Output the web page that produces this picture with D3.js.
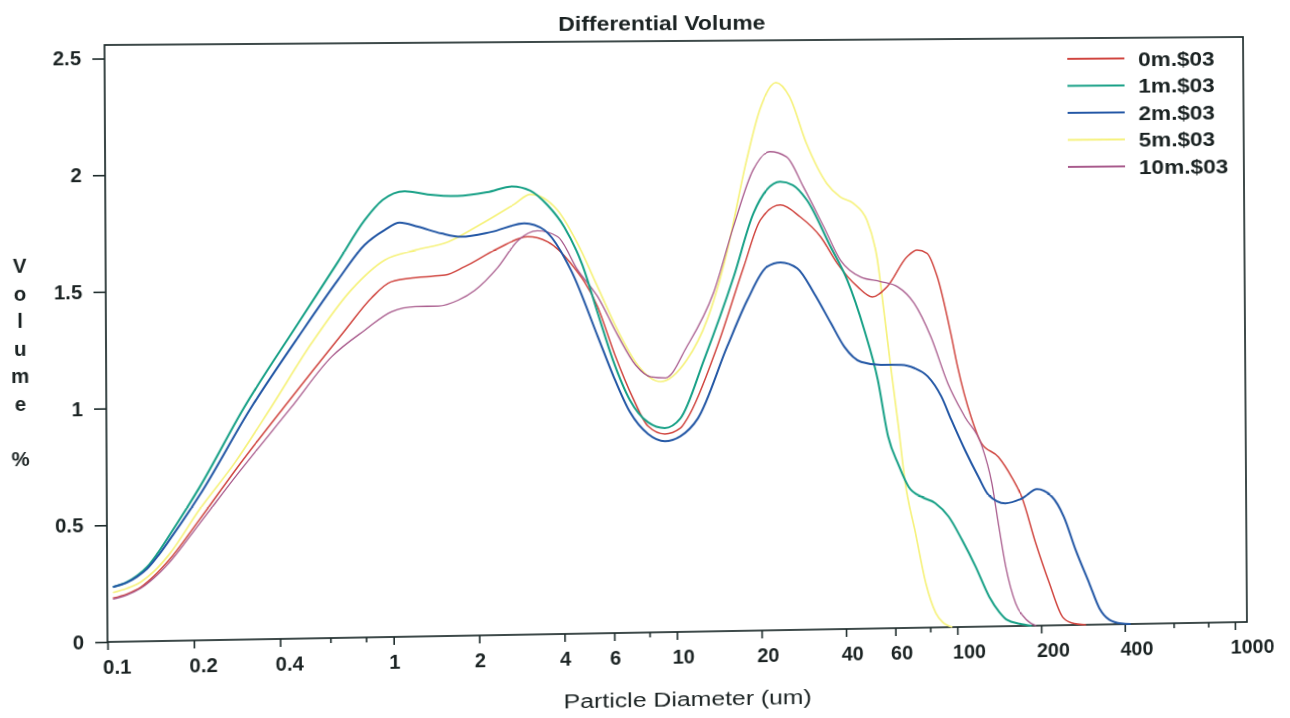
<!DOCTYPE html>
<html>
<head>
<meta charset="utf-8">
<script src="https://cdn.jsdelivr.net/npm/d3@7"></script>
<style>
  html, body { margin: 0; padding: 0; background: #fff; overflow: hidden; width: 1290px; height: 718px; }
  #chart { position: absolute; left: 0; top: 0; transform-origin: 0 0; overflow: visible; }
  text { font-family: "Liberation Sans", Arial, sans-serif; fill: #1b2323; }
</style>
</head>
<body>
<svg id="chart" width="1290" height="740"></svg>
<script>
// ---- Differential volume distributions (diameter in um, volume in %) ----
const size0m = [0.1047, 0.1172, 0.1312, 0.146, 0.1645, 0.21, 0.29, 0.414, 0.535, 0.686, 0.848, 0.996, 1.24, 1.54, 1.81, 2.37, 3.02, 3.55, 4.29, 5.32, 6.11, 7.06, 7.98, 9.15, 10.4, 11.03, 14.1, 17.6, 20.2, 23.8, 28.0, 33.1, 37.9, 44.7, 50.5, 57.1, 67.4, 73.2, 79.4, 86.3, 96.2, 101.6, 113.2, 123, 141.6, 157.8, 171.4, 191.9, 214.3, 238.8, 257, 290];
const vol0m  = [0.187, 0.204, 0.233, 0.280, 0.347, 0.517, 0.75, 0.991, 1.161, 1.324, 1.46, 1.529, 1.547, 1.555, 1.591, 1.668, 1.717, 1.694, 1.599, 1.411, 1.202, 1.015, 0.892, 0.857, 0.882, 0.925, 1.232, 1.578, 1.779, 1.843, 1.791, 1.703, 1.587, 1.485, 1.44, 1.484, 1.613, 1.641, 1.627, 1.524, 1.277, 1.132, 0.914, 0.799, 0.737, 0.649, 0.561, 0.36, 0.185, 0.036, 0.01, 0];

const size1m = [0.1047, 0.1172, 0.127, 0.1377, 0.1493, 0.1645, 0.21, 0.302, 0.47, 0.648, 0.807, 0.933, 1.115, 1.343, 1.713, 2.18, 2.67, 3.09, 3.55, 4.07, 4.71, 5.32, 6.01, 6.89, 7.98, 9.15, 10.4, 12.65, 16.2, 19.1, 21.3, 23.8, 26.4, 29.6, 35.9, 41.1, 47.2, 52.6, 57.1, 62.1, 67.4, 75, 83.9, 93.6, 104.5, 116.7, 130.3, 141.6, 151, 167, 185];
const vol1m  = [0.235, 0.255, 0.281, 0.318, 0.373, 0.45, 0.654, 0.995, 1.357, 1.617, 1.797, 1.882, 1.919, 1.904, 1.896, 1.911, 1.935, 1.916, 1.853, 1.757, 1.591, 1.384, 1.18, 1.006, 0.909, 0.883, 0.924, 1.176, 1.535, 1.809, 1.909, 1.944, 1.929, 1.864, 1.659, 1.514, 1.296, 1.079, 0.832, 0.709, 0.613, 0.568, 0.54, 0.481, 0.378, 0.261, 0.13, 0.062, 0.027, 0.01, 0];

const size2m = [0.1047, 0.1172, 0.127, 0.1377, 0.1493, 0.1645, 0.21, 0.319, 0.47, 0.648, 0.805, 0.946, 1.069, 1.24, 1.5, 1.76, 2.24, 2.94, 3.46, 4.29, 5.32, 6.01, 6.89, 7.98, 9.15, 10.4, 12.0, 15.3, 18.1, 21.3, 23.8, 27.3, 31.3, 35.9, 40.0, 45.9, 54.1, 63.8, 71.2, 79.4, 88.7, 96.2, 107.5, 119.9, 130.3, 149.6, 171.8, 194.5, 220.2, 242.7, 267.3, 298.5, 324.3, 352.4, 389, 420];
const vol2m  = [0.235, 0.253, 0.277, 0.31, 0.36, 0.43, 0.62, 0.993, 1.298, 1.54, 1.689, 1.752, 1.783, 1.765, 1.735, 1.72, 1.739, 1.775, 1.745, 1.57, 1.282, 1.115, 0.954, 0.858, 0.826, 0.847, 0.923, 1.232, 1.433, 1.576, 1.594, 1.567, 1.458, 1.327, 1.225, 1.158, 1.144, 1.143, 1.128, 1.091, 1.003, 0.901, 0.769, 0.652, 0.572, 0.535, 0.555, 0.594, 0.56, 0.472, 0.326, 0.181, 0.071, 0.02, 0.003, 0];

const size5m = [0.1047, 0.1172, 0.1312, 0.146, 0.1645, 0.21, 0.28, 0.374, 0.523, 0.721, 0.946, 1.21, 1.58, 2.07, 2.71, 3.09, 3.85, 4.53, 5.32, 6.25, 7.35, 8.87, 11.0, 13.0, 15.3, 18.1, 20.2, 23.1, 25.8, 29.6, 34.9, 38.9, 43.5, 48.5, 52.6, 55.6, 58.7, 62.1, 65.6, 71.2, 77.3, 83.9, 88.7, 96];
const vol5m  = [0.211, 0.228, 0.255, 0.3, 0.37, 0.56, 0.76, 0.992, 1.27, 1.496, 1.623, 1.664, 1.698, 1.774, 1.858, 1.9, 1.831, 1.686, 1.498, 1.309, 1.157, 1.084, 1.177, 1.349, 1.636, 2.039, 2.256, 2.374, 2.313, 2.109, 1.935, 1.876, 1.846, 1.773, 1.609, 1.37, 1.123, 0.882, 0.629, 0.411, 0.193, 0.062, 0.022, 0];

const size10m = [0.1047, 0.1172, 0.1312, 0.146, 0.1645, 0.21, 0.29, 0.44, 0.614, 0.805, 1.0, 1.21, 1.46, 1.71, 1.96, 2.37, 2.79, 3.27, 3.85, 4.53, 5.32, 6.25, 7.23, 8.19, 9.23, 11.0, 13.7, 16.2, 19.1, 21.9, 25.1, 28.8, 34.0, 38.9, 45.9, 54.1, 62.1, 71.2, 81.6, 93.6, 107.5, 123.3, 134, 141.6, 149.6, 162, 177, 192];
const vol10m  = [0.183, 0.2, 0.228, 0.272, 0.335, 0.5, 0.72, 0.991, 1.21, 1.323, 1.401, 1.421, 1.422, 1.446, 1.488, 1.587, 1.701, 1.742, 1.716, 1.571, 1.455, 1.288, 1.157, 1.105, 1.1, 1.234, 1.464, 1.751, 1.997, 2.075, 2.052, 1.921, 1.746, 1.601, 1.527, 1.506, 1.483, 1.41, 1.264, 1.061, 0.914, 0.79, 0.623, 0.435, 0.26, 0.1, 0.027, 0];

const seriesNames  = ["0m.$03", "1m.$03", "2m.$03", "5m.$03", "10m.$03"];
const seriesColors = ["#d0453f", "#17a086", "#2357a5", "#f6f27e", "#a85a8c"];

// axis ticks
const xMajorTicks  = [0.1, 0.2, 0.4, 1, 2, 4, 6, 10, 20, 40, 60, 100, 200, 400, 1000];
const xMajorLabels = ["0.1", "0.2", "0.4", "1", "2", "4", "6", "10", "20", "40", "60", "100", "200", "400", "1000"];
const xMinorTicks  = [0.6, 0.8, 8, 80, 600, 800];
const yTicks       = [0, 0.5, 1, 1.5, 2, 2.5];
const yTickLabels  = ["0", "0.5", "1", "1.5", "2", "2.5"];
const yTitleChars  = ["V", "o", "l", "u", "m", "e", "", "%"];

// ---- layout ----
const plot = { left: 108, right: 1247, top: 45, bottom: 642 };
const svg = d3.select("#chart");

const x = d3.scaleLog().domain([0.1, 1105]).range([plot.left, plot.right]);
const y = d3.scaleLinear().domain([0, 2.558]).range([plot.bottom, plot.top]);

const frameColor = "#1d2b2b";

// title
svg.append("text")
  .attr("x", 660).attr("y", 34)
  .attr("text-anchor", "middle")
  .attr("font-size", 20).attr("font-weight", "bold")
  .attr("textLength", 207).attr("lengthAdjust", "spacingAndGlyphs")
  .text("Differential Volume");

// x axis: labelled ticks (labels start just left of their tick) and unlabelled ticks
const gx = svg.append("g").attr("transform", `translate(0,${plot.bottom})`)
  .call(d3.axisBottom(x).tickValues(xMajorTicks)
    .tickFormat((d, i) => xMajorLabels[i]).tickSize(8).tickPadding(10));
gx.select(".domain").remove();
gx.selectAll("line").attr("stroke", frameColor).attr("stroke-width", 1.6);
gx.selectAll("text")
  .attr("x", -5).attr("text-anchor", "start")
  .attr("font-size", 20).attr("font-weight", "bold")
  .attr("font-family", "Liberation Sans, Arial, sans-serif").attr("fill", "#1b2323");

const gxm = svg.append("g").attr("transform", `translate(0,${plot.bottom})`)
  .call(d3.axisBottom(x).tickValues(xMinorTicks).tickFormat("").tickSize(5));
gxm.select(".domain").remove();
gxm.selectAll("line").attr("stroke", frameColor).attr("stroke-width", 1.6);

// y axis
const gy = svg.append("g").attr("transform", `translate(${plot.left},0)`)
  .call(d3.axisLeft(y).tickValues(yTicks)
    .tickFormat((d, i) => yTickLabels[i]).tickSize(12).tickPadding(11));
gy.select(".domain").remove();
gy.selectAll("line").attr("stroke", frameColor).attr("stroke-width", 1.6);
gy.selectAll("text").attr("font-size", 20).attr("font-weight", "bold")
  .attr("font-family", "Liberation Sans, Arial, sans-serif").attr("fill", "#1b2323");

// plot frame
svg.append("rect")
  .attr("x", plot.left).attr("y", plot.top)
  .attr("width", plot.right - plot.left).attr("height", plot.bottom - plot.top)
  .attr("fill", "none").attr("stroke", frameColor).attr("stroke-width", 1.7);

// axis titles
svg.append("text")
  .attr("x", 682).attr("y", 717)
  .attr("text-anchor", "middle")
  .attr("font-size", 21)
  .attr("textLength", 248).attr("lengthAdjust", "spacingAndGlyphs")
  .text("Particle Diameter (um)");

svg.append("g").selectAll("text").data(yTitleChars).join("text")
  .attr("x", 24)
  .attr("y", (d, i) => 265 + i * 27.5)
  .attr("dy", "0.36em")
  .attr("text-anchor", "middle")
  .attr("font-size", 20).attr("font-weight", "bold")
  .text(d => d);

// distribution curves
const series = [
  { name: seriesNames[0], color: seriesColors[0], sizes: size0m,  vols: vol0m,  width: 1.5 },
  { name: seriesNames[1], color: seriesColors[1], sizes: size1m,  vols: vol1m,  width: 2.0 },
  { name: seriesNames[2], color: seriesColors[2], sizes: size2m,  vols: vol2m,  width: 2.0 },
  { name: seriesNames[3], color: seriesColors[3], sizes: size5m,  vols: vol5m,  width: 1.7 },
  { name: seriesNames[4], color: seriesColors[4], sizes: size10m, vols: vol10m, width: 1.3 }
];

const line = d3.line()
  .x(d => x(d[0]))
  .y(d => y(d[1]))
  .curve(d3.curveMonotoneX);

const drawOrder = [3, 0, 4, 1, 2];
svg.append("g").selectAll("path").data(drawOrder.map(i => series[i])).join("path")
  .attr("d", s => line(s.sizes.map((v, i) => [v, s.vols[i]])))
  .attr("fill", "none")
  .attr("stroke", s => s.color)
  .attr("stroke-width", s => s.width)
  .attr("stroke-linejoin", "round");

// legend
const legend = svg.append("g");
const legRows = legend.selectAll("g").data(series).join("g")
  .attr("transform", (d, i) => `translate(1068,${66 + i * 27.5})`);
legRows.append("line")
  .attr("x1", 0).attr("x2", 58).attr("y1", 0).attr("y2", 0)
  .attr("stroke", d => d.color).attr("stroke-width", 2);
legRows.append("text")
  .attr("x", 72).attr("y", 0).attr("dy", "0.36em")
  .attr("font-size", 21).attr("font-weight", "bold")
  .attr("textLength", d => d.name.length * 13.3 - 2)
  .attr("lengthAdjust", "spacingAndGlyphs")
  .text(d => d.name);

// page is a slightly keystoned print: map the plot rectangle onto its printed quad
function squareToQuad(q) {
  const [x0, y0] = q[0], [x1, y1] = q[1], [x2, y2] = q[2], [x3, y3] = q[3];
  const dx1 = x1 - x2, dx2 = x3 - x2, dx3 = x0 - x1 + x2 - x3;
  const dy1 = y1 - y2, dy2 = y3 - y2, dy3 = y0 - y1 + y2 - y3;
  const den = dx1 * dy2 - dx2 * dy1;
  const g = (dx3 * dy2 - dx2 * dy3) / den;
  const h = (dx1 * dy3 - dx3 * dy1) / den;
  return [
    [x1 - x0 + g * x1, x3 - x0 + h * x3, x0],
    [y1 - y0 + g * y1, y3 - y0 + h * y3, y0],
    [g, h, 1]
  ];
}
function mul(A, B) {
  return A.map(r => [0, 1, 2].map(j => r[0] * B[0][j] + r[1] * B[1][j] + r[2] * B[2][j]));
}
const pw = plot.right - plot.left, ph = plot.bottom - plot.top;
const toUnit = [[1 / pw, 0, -plot.left / pw], [0, 1 / ph, -plot.top / ph], [0, 0, 1]];
const Q = squareToQuad([[104.5, 45], [1243, 37], [1247, 622], [107.5, 642]]);
const M = mul(Q, toUnit);
const n = M[2][2];
const m3d = [
  M[0][0] / n, M[1][0] / n, 0, M[2][0] / n,
  M[0][1] / n, M[1][1] / n, 0, M[2][1] / n,
  0, 0, 1, 0,
  M[0][2] / n, M[1][2] / n, 0, 1
];
document.getElementById("chart").style.transform = `matrix3d(${m3d.join(",")})`;
</script>
</body>
</html>
